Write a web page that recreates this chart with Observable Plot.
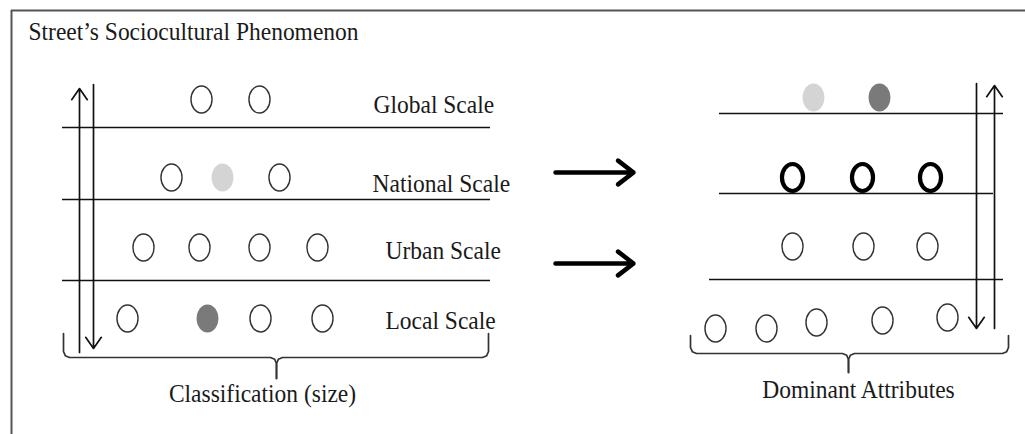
<!DOCTYPE html>
<html>
<head>
<meta charset="utf-8">
<script src="https://cdn.jsdelivr.net/npm/d3@7"></script>
<script src="https://cdn.jsdelivr.net/npm/@observablehq/plot@0.6"></script>
<style>
  html, body { margin: 0; padding: 0; background: #fff; }
</style>
</head>
<body>
<div id="chart"></div>
<script>
// ---- Diagram content (diagram units = pixels of a 1025x434 canvas) ----
const title = "Street\u2019s Sociocultural Phenomenon";
const scaleNames = ["Global Scale", "National Scale", "Urban Scale", "Local Scale"];
const scaleLabelX = [373, 372, 385, 385];
const scaleLabelY = [104, 183, 250, 320];

// left panel: classification by size (x, row y, kind)
const leftX    = [201, 259, 171, 222, 279, 143, 199, 259, 317, 127, 207, 260, 322];
const leftY    = [99, 99, 177, 177, 177, 247, 247, 247, 247, 318, 318, 318, 318];
const leftKind = ["o","o","o","light","o","o","o","o","o","o","dark","o","o"];

// right panel: dominant attributes
const rightX    = [813, 879, 792, 862, 930, 792, 863, 927, 715, 766, 816, 882, 947];
const rightY    = [97, 97, 177, 177, 177, 246, 246, 246, 328, 328, 322, 320, 317];
const rightKind = ["light","dark","bold","bold","bold","o","o","o","o","o","o","o","o"];

// separator lines: y, x1, x2
const sepY  = [127, 199, 280, 113, 193, 279];
const sepX1 = [62, 62, 62, 719, 719, 709];
const sepX2 = [490, 490, 490, 1003, 993, 1003];

// vertical double arrows: x, from y, to y
const vArrowX  = [79, 93, 976, 994];
const vArrowY1 = [352, 84, 83, 328];
const vArrowY2 = [88, 348, 328, 85];

// transition arrows (between panels)
const hArrowY = [172, 263];
const hArrowX1 = 555, hArrowX2 = 633;

// braces
const braceX1 = [63, 690], braceX2 = [488, 1008], braceXm = [276, 848];
const braceTop = [333, 335], braceY = [357, 353], braceStem = [378, 372];
const braceLabels = ["Classification (size)", "Dominant Attributes"];
const braceLabelX = [262, 858], braceLabelY = [393, 389];

// ---- build tables ----
const dots = [
  ...leftX.map((x, i) => ({x, y: leftY[i], kind: leftKind[i]})),
  ...rightX.map((x, i) => ({x, y: rightY[i], kind: rightKind[i]}))
];
const seps = sepY.map((y, i) => ({y, x1: sepX1[i], x2: sepX2[i]}));
const vArrows = vArrowX.map((x, i) => ({x, y1: vArrowY1[i], y2: vArrowY2[i]}));
const hArrows = hArrowY.map(y => ({y, x1: hArrowX1, x2: hArrowX2}));
const labels = scaleNames.map((t, i) => ({t, x: scaleLabelX[i], y: scaleLabelY[i]}));

const bracePts = [];
braceX1.forEach((x1, i) => {
  const x2 = braceX2[i], xm = braceXm[i], top = braceTop[i], y = braceY[i], s = braceStem[i], r = 6;
  const half = (xa, dir, id) => [
    [xa, top], [xa, y - r], [xa + dir * 1.8, y - 1.8], [xa + dir * r, y],
    [xm - dir * r, y], [xm - dir * 1.8, y + 1.8], [xm, y + r], [xm, s]
  ].forEach(([px, py]) => bracePts.push({x: px, y: py, id}));
  half(x1, 1, i + "L");
  half(x2, -1, i + "R");
});

// ellipse symbol (the circles in the figure are slightly taller than wide)
const ellipse = {
  draw(ctx, size) {
    const r = Math.sqrt(size / Math.PI), rx = r * 0.78, ry = r, k = 0.5523;
    ctx.moveTo(rx, 0);
    ctx.bezierCurveTo(rx, ry * k, rx * k, ry, 0, ry);
    ctx.bezierCurveTo(-rx * k, ry, -rx, ry * k, -rx, 0);
    ctx.bezierCurveTo(-rx, -ry * k, -rx * k, -ry, 0, -ry);
    ctx.bezierCurveTo(rx * k, -ry, rx, -ry * k, rx, 0);
    ctx.closePath();
  }
};

const font = "Liberation Serif, Times New Roman, serif";

const chart = Plot.plot({
  width: 1025,
  height: 434,
  margin: 0,
  x: {domain: [0, 1025], range: [0, 1025], axis: null},
  y: {domain: [0, 434], range: [0, 434], axis: null},
  style: {background: "#fff"},
  marks: [
    // frame
    Plot.ruleY([10], {x1: 11, x2: 1025, stroke: "#555", strokeWidth: 2}),
    Plot.ruleX([11], {y1: 10, y2: 434, stroke: "#555", strokeWidth: 2}),
    // separators
    Plot.ruleY(seps, {y: "y", x1: "x1", x2: "x2", stroke: "#111", strokeWidth: 1.7}),
    // vertical arrows
    Plot.arrow(vArrows, {x1: "x", x2: "x", y1: "y1", y2: "y2", stroke: "#111", strokeWidth: 1.7, headLength: 12, headAngle: 70}),
    // transition arrows
    Plot.arrow(hArrows, {x1: "x1", x2: "x2", y1: "y", y2: "y", stroke: "#000", strokeWidth: 4.5, headLength: 6.5, headAngle: 75}),
    // braces
    Plot.line(bracePts, {x: "x", y: "y", z: "id", stroke: "#333", strokeWidth: 1.7, curve: "linear"}),
    // circles
    Plot.dot(dots.filter(d => d.kind === "o"), {x: "x", y: "y", r: 13.5, symbol: ellipse, fill: "none", stroke: "#333", strokeWidth: 1.4}),
    Plot.dot(dots.filter(d => d.kind === "bold"), {x: "x", y: "y", r: 13.5, symbol: ellipse, fill: "none", stroke: "#000", strokeWidth: 4.2}),
    Plot.dot(dots.filter(d => d.kind === "light"), {x: "x", y: "y", r: 14, symbol: ellipse, fill: "#d4d4d4", stroke: "none"}),
    Plot.dot(dots.filter(d => d.kind === "dark"), {x: "x", y: "y", r: 14, symbol: ellipse, fill: "#7a7a7a", stroke: "none"}),
    // texts
    Plot.text([title], {x: 28, y: 31, text: d => d, textAnchor: "start", fontSize: 23.5, fontFamily: font, fill: "#1a1a1a", className: "txt"}),
    Plot.text(labels, {x: "x", y: "y", text: "t", textAnchor: "start", fontSize: 23.5, fontFamily: font, fill: "#1a1a1a", className: "txt"}),
    Plot.text(braceLabels, {x: (d, i) => braceLabelX[i], y: (d, i) => braceLabelY[i], text: d => d, textAnchor: "middle", fontSize: 23.5, fontFamily: font, fill: "#1a1a1a", className: "txt"})
  ]
});

// the figure's lettering is slightly taller than the font's natural proportions
chart.querySelectorAll("g.txt text").forEach(el => {
  const t = el.getAttribute("transform");
  if (t && /^translate\([^)]*\)$/.test(t.trim())) el.setAttribute("transform", t + " scale(1,1.1)");
});

document.getElementById("chart").appendChild(chart);
</script>
</body>
</html>
